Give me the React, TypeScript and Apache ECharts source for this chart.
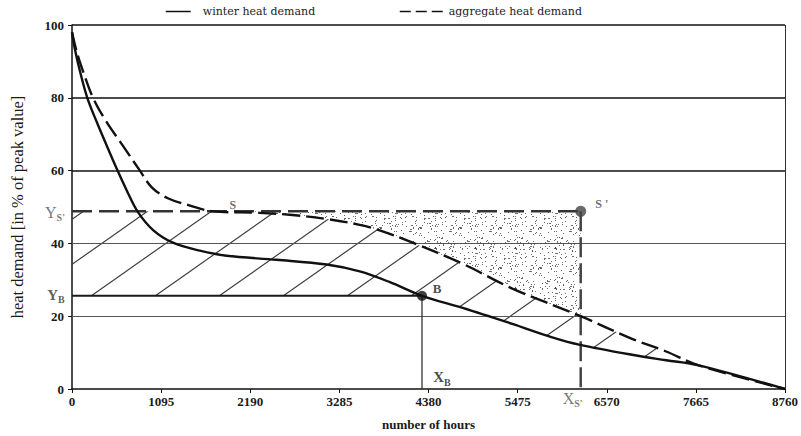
import React, { useEffect, useRef } from "react";
import * as echarts from "echarts";

// ---- data ----
const hourTicks = [0, 1095, 2190, 3285, 4380, 5475, 6570, 7665, 8760];
const percentTicks = [0, 20, 40, 60, 80, 100];

const winterHours = [0, 37, 98, 188, 303, 426, 548, 680, 810, 1000, 1240, 1570, 1900, 2515, 3130, 3535, 3900, 4300, 4800, 5410, 5900, 6230, 6880, 7300, 7700, 8760];
const winterValues = [98, 93.2, 87.3, 80, 73.4, 66.9, 60.6, 54.2, 48.6, 43.6, 40.2, 38, 36.6, 35.5, 34.2, 32.3, 29.4, 25.6, 22.3, 17.9, 14.2, 12.2, 9.4, 7.9, 6.5, 0];

const aggregateHours = [0, 60, 140, 258, 420, 620, 834, 980, 1177, 1450, 1730, 2300, 2710, 3130, 3535, 3780, 4185, 4800, 5410, 6250, 6880, 7300, 7700, 8760];
const aggregateValues = [98, 92.5, 87, 80, 73.5, 67, 60, 55.4, 52.4, 50.4, 48.8, 48.4, 47.8, 46.7, 45.1, 43.6, 40.2, 34.4, 27.6, 20, 13.8, 10.3, 6.5, 0];

const YS = 48.8; // Y_S'
const YB = 25.6; // Y_B
const XB = 4300; // X_B
const XS = 6250; // X_S'
const SX = 1730; // hour of point S
const MERGE = 7700; // where the two curves meet

const WINTER = "winter heat demand";
const AGGREGATE = "aggregate heat demand";

const winterData = winterHours.map((h, i) => [h, winterValues[i]]);
const aggregateData = aggregateHours.map((h, i) => [h, aggregateValues[i]]);

// hatched region: between min(winter, YB) and min(aggregate, YS)
const hatchPoly = [
  [0, YS],
  [SX, YS],
  ...aggregateData.filter((p) => p[0] > SX && p[0] <= MERGE),
  ...winterData.filter((p) => p[0] >= XB && p[0] < MERGE).reverse(),
  [0, YB],
];
// dotted region: between aggregate and YS, from S to X_S'
const dotPoly = [
  [SX, YS],
  [XS, YS],
  ...aggregateData.filter((p) => p[0] >= SX && p[0] <= XS).reverse(),
];

const SERIF = "Liberation Serif";

function makeHatch() {
  const W = 64, H = 45;
  const c = document.createElement("canvas");
  c.width = W; c.height = H;
  const ctx = c.getContext("2d")!;
  ctx.strokeStyle = "#3a3a3a";
  ctx.lineWidth = 1.1;
  for (const k of [-1, 0, 1]) {
    ctx.beginPath();
    ctx.moveTo(-W + k * W, 2 * H);
    ctx.lineTo(2 * W + k * W, -H);
    ctx.stroke();
  }
  return { image: c.toDataURL(), repeat: "repeat", imageWidth: W, imageHeight: H, x: 14, y: 0 };
}

function makeStipple() {
  const S = 40;
  const c = document.createElement("canvas");
  c.width = S; c.height = S;
  const ctx = c.getContext("2d")!;
  let seed = 12345;
  const next = () => { seed = (seed * 16807) % 2147483647; return seed / 2147483647; };
  ctx.fillStyle = "rgba(70,70,70,0.8)";
  for (let i = 0; i < 140; i++) {
    const x = Math.floor(next() * S), y = Math.floor(next() * S);
    ctx.fillRect(x, y, 1, 1);
  }
  return { image: c.toDataURL(), repeat: "repeat", imageWidth: S, imageHeight: S };
}

const subRich = (color: string, bold: boolean, big: number) => ({
  X: { fontFamily: SERIF, fontSize: big, color, fontWeight: bold ? "bold" : "normal", lineHeight: 20, verticalAlign: "middle" },
  s: { fontFamily: SERIF, fontSize: 10, color, fontWeight: "bold", lineHeight: 10, verticalAlign: "bottom" },
});

export default function App() {
  const ref = useRef<HTMLDivElement>(null);
  useEffect(() => {
    if (!ref.current) return;
    const chart = echarts.init(ref.current, null, { renderer: "svg" });
    const hatch = makeHatch();
    const stipple = makeStipple();

    const gridLine = (v: number, color: string, width: number) => ({
      yAxis: v,
      lineStyle: { color, width, type: "solid" },
    });

    const option: any = {
      animation: false,
      backgroundColor: "#ffffff",
      grid: { left: 72, right: 13, top: 25, bottom: 43 },
      legend: [
        {
          data: [{ name: WINTER }],
          left: 165, top: 6, itemWidth: 25, itemHeight: 10, padding: 0,
          lineStyle: { width: 1.5 },
          itemStyle: { opacity: 0 },
          textStyle: { fontFamily: "DejaVu Serif", fontSize: 11, color: "#222", padding: [0, 0, 0, 7] },
        },
        {
          data: [{ name: AGGREGATE }],
          left: 399, top: 6, itemWidth: 44, itemHeight: 10, padding: 0,
          lineStyle: { width: 1.5, type: [11, 5] },
          itemStyle: { opacity: 0 },
          textStyle: { fontFamily: "DejaVu Serif", fontSize: 11, color: "#222" },
        },
      ],
      xAxis: {
        type: "value", min: hourTicks[0], max: hourTicks[hourTicks.length - 1], interval: hourTicks[1] - hourTicks[0],
        axisLine: { show: true, lineStyle: { color: "#111", width: 1.5 } },
        axisTick: { show: true, length: 4, lineStyle: { color: "#111" } },
        axisLabel: { margin: 6, fontFamily: SERIF, fontWeight: "bold", fontSize: 13, color: "#1a1a1a", formatter: (v: number) => String(v) },
        splitLine: { show: false },
        name: "number of hours", nameLocation: "middle", nameGap: 29,
        nameTextStyle: { fontFamily: SERIF, fontWeight: "bold", fontSize: 13, color: "#1a1a1a" },
      },
      yAxis: {
        type: "value", min: percentTicks[0], max: percentTicks[percentTicks.length - 1], interval: percentTicks[1] - percentTicks[0],
        axisLine: { show: true, lineStyle: { color: "#111", width: 1.5 } },
        axisTick: { show: true, length: 4, lineStyle: { color: "#111" } },
        axisLabel: { margin: 8, fontFamily: SERIF, fontWeight: "bold", fontSize: 13, color: "#1a1a1a", formatter: (v: number) => String(v) },
        splitLine: { show: false },
        name: "heat demand [in % of peak value]", nameLocation: "middle", nameGap: 46,
        nameTextStyle: { fontFamily: SERIF, fontSize: 16.5, color: "#1a1a1a" },
      },
      series: [
        {
          type: "custom", silent: true, z: 1, data: [[0, 0]],
          renderItem: (_p: any, api: any) => ({
            type: "polygon",
            shape: { points: hatchPoly.map((p) => api.coord(p)) },
            style: { fill: hatch, stroke: null },
          }),
        },
        {
          type: "custom", silent: true, z: 1, data: [[0, 0]],
          renderItem: (_p: any, api: any) => ({
            type: "polygon",
            shape: { points: dotPoly.map((p) => api.coord(p)) },
            style: { fill: stipple, stroke: null },
          }),
        },
        {
          // Y_B horizontal + gridlines / frame
          type: "line", silent: true, z: 4, symbol: "none",
          data: [[0, YB], [XB, YB]],
          lineStyle: { color: "#1a1a1a", width: 2 },
          markLine: {
            silent: true, symbol: "none", label: { show: false }, z: 2,
            data: [
              gridLine(20, "#555", 1),
              gridLine(40, "#555", 1),
              gridLine(60, "#111", 1.5),
              gridLine(80, "#111", 1.5),
              gridLine(100, "#111", 1.5),
              { xAxis: 8760, lineStyle: { color: "#333", width: 1, type: "solid" } },
            ],
          },
        },
        {
          type: "line", silent: true, z: 4, symbol: "none",
          data: [[XB, YB], [XB, 0]],
          lineStyle: { color: "#333", width: 1.3 },
        },
        {
          type: "line", silent: true, z: 4, symbol: "none",
          data: [[0, YS], [XS, YS]],
          lineStyle: { color: "#333", width: 2.5, type: [20, 7] },
        },
        {
          type: "line", silent: true, z: 4, symbol: "none",
          data: [[XS, YS], [XS, 0]],
          lineStyle: { color: "#444", width: 2.5, type: [20, 6] },
        },
        {
          name: WINTER, type: "line", z: 5, symbol: "none", smooth: 0.35,
          data: winterData, color: "#111",
          lineStyle: { color: "#111", width: 2.4 },
        },
        {
          name: AGGREGATE, type: "line", z: 5, symbol: "none", smooth: 0.35,
          data: aggregateData, color: "#111",
          lineStyle: { color: "#111", width: 2.4, type: [18, 6] },
        },
        {
          type: "scatter", silent: true, z: 6, symbol: "circle",
          data: [
            { value: [XB, YB], symbolSize: 10, itemStyle: { color: "#111" } },
            { value: [XS, YS], symbolSize: 11, itemStyle: { color: "#444" } },
          ],
        },
        {
          type: "scatter", silent: true, z: 7, symbolSize: 1, clip: false,
          itemStyle: { color: "rgba(0,0,0,0)" },
          label: { show: true, position: "inside" },
          data: [
            { value: [SX, YS], label: { offset: [20, -6], formatter: "S", fontFamily: SERIF, fontWeight: "bold", fontSize: 12, color: "#444" } },
            { value: [XS, YS], label: { offset: [21, -7], formatter: "S '", fontFamily: SERIF, fontWeight: "bold", fontSize: 12, color: "#444" } },
            { value: [XB, YB], label: { offset: [15, -7], formatter: "B", fontFamily: SERIF, fontWeight: "bold", fontSize: 13, color: "#1a1a1a" } },
            { value: [XB, 0], label: { offset: [20, -12], formatter: "{X|X}{s|B}", rich: subRich("#1a1a1a", true, 15) } },
            { value: [XS, 0], label: { offset: [-8, 9], formatter: "{X|X}{s|S'}", rich: subRich("#555", false, 16) } },
            { value: [0, YS], label: { offset: [-17, 1], formatter: "{X|Y}{s|S'}", rich: subRich("#555", false, 16) } },
            { value: [0, YB], label: { offset: [-16, -1], formatter: "{X|Y}{s|B}", rich: subRich("#333", true, 15) } },
          ],
        },
      ],
    };
    chart.setOption(option);
    return () => chart.dispose();
  }, []);
  return <div ref={ref} style={{ position: "fixed", left: 0, top: 0, width: 801, height: 436 }} />;
}
